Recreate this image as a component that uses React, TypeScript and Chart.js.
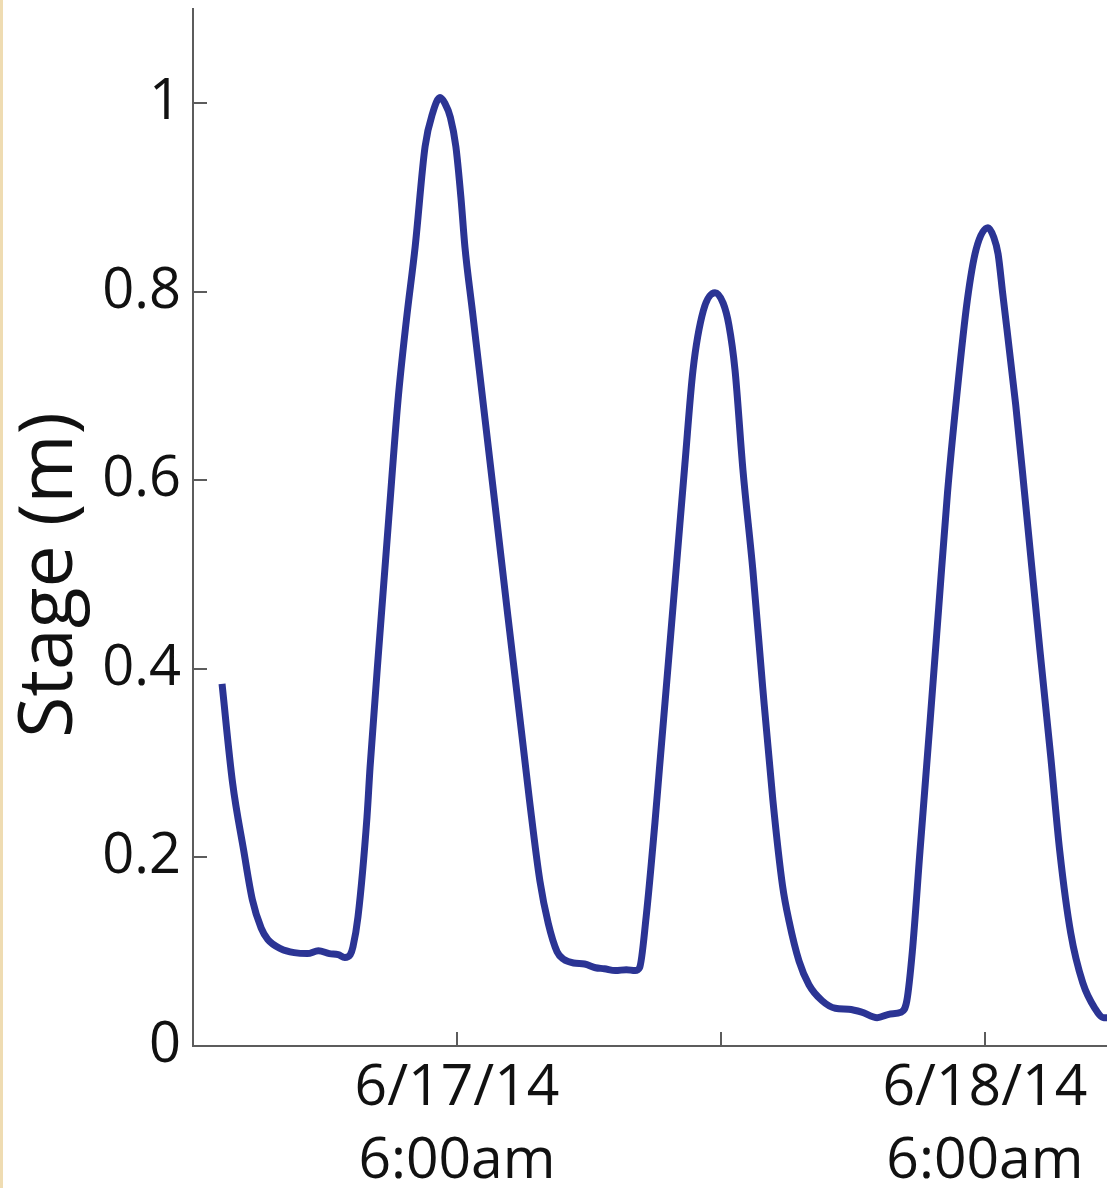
import React, { useEffect, useRef } from "react";
import { Chart, registerables } from "chart.js";

Chart.register(...registerables);

// hours relative to 6/17/14 6:00am
const hours = [
  -10.68, -10.2, -9.7, -9.3, -8.9, -8.6, -8.0, -7.4, -6.8, -6.3, -5.8, -5.4, -5.1, -4.85,
  -4.73, -4.5, -4.09, -3.95, -3.5, -3.1, -2.68, -2.3, -1.9, -1.45, -1.1, -0.77, -0.55,
  -0.3, -0.05, 0.18, 0.36, 0.7, 1.05, 1.75, 2.32, 3.0, 3.3, 3.77, 4.15, 4.55, 4.85, 5.3,
  5.8, 6.3, 6.7, 7.2, 7.7, 8.1, 8.3, 8.6, 9.0, 9.2, 9.6, 10.0, 10.36, 10.73, 11.2, 11.73,
  12.1, 12.36, 12.64, 13.0, 13.45, 13.9, 14.36, 14.8, 15.1, 15.55, 16.0, 16.6, 17.2, 17.8, 18.4,
  19.1, 19.7, 20.2, 20.45, 20.7, 21.05, 21.5, 21.9, 22.3, 22.7, 23.2, 23.6, 24.14, 24.4,
  24.6, 24.8, 25.4, 25.8, 26.5, 27.0, 27.4, 27.9, 28.45, 29.0, 29.4, 29.7,
];
const stage = [
  0.384, 0.279, 0.208, 0.155, 0.125, 0.113, 0.103, 0.099, 0.098, 0.101, 0.098, 0.097, 0.094, 0.097,
  0.105, 0.137, 0.243, 0.296, 0.438, 0.56, 0.685, 0.77, 0.848, 0.954, 0.99, 1.006, 1.0,
  0.985, 0.954, 0.9, 0.848, 0.78, 0.71, 0.57, 0.455, 0.32, 0.26, 0.175, 0.13, 0.1, 0.092, 0.088,
  0.087, 0.083, 0.082, 0.080, 0.081, 0.080, 0.083, 0.137, 0.237, 0.293, 0.404, 0.516, 0.617, 0.717, 0.78, 0.799,
  0.788, 0.765, 0.717, 0.611, 0.505, 0.38, 0.261, 0.17, 0.132, 0.09, 0.065, 0.048, 0.040, 0.039, 0.036,
  0.030, 0.034, 0.036, 0.048, 0.10, 0.207, 0.342, 0.465, 0.587, 0.685, 0.791, 0.845, 0.868, 0.858,
  0.84, 0.80, 0.68, 0.587, 0.42, 0.305, 0.207, 0.12, 0.067, 0.040, 0.030, 0.030,
];

const xTickValues = [0, 12, 24];
const xTickLabels: (string | string[])[] = [["6/17/14", "6:00am"], "", ["6/18/14", "6:00am"]];
const yTickValues = [0, 0.2, 0.4, 0.6, 0.8, 1];
const yTickLabels = ["0", "0.2", "0.4", "0.6", "0.8", "1"];
const yTitle = "Stage (m)";

const X_MIN = -12;
const X_MAX = 29.55;
const Y_MIN = 0;
const Y_MAX = 1.1;

const FONT = '"Open Sans", "Noto Sans", sans-serif';
const AXIS_COLOR = "#5c5c5c";
const LINE_COLOR = "#2b3494";

const innerTicksPlugin = {
  id: "innerTicks",
  afterDraw(chart: any) {
    const { ctx, chartArea, scales } = chart;
    const xs = scales.x;
    const ys = scales.y;
    ctx.save();
    ctx.strokeStyle = AXIS_COLOR;
    ctx.lineWidth = 2;
    ctx.beginPath();
    for (const v of yTickValues) {
      const y = Math.round(ys.getPixelForValue(v));
      ctx.moveTo(chartArea.left, y);
      ctx.lineTo(chartArea.left + 14, y);
    }
    for (const v of xTickValues) {
      const x = Math.round(xs.getPixelForValue(v));
      ctx.moveTo(x, chartArea.bottom);
      ctx.lineTo(x, chartArea.bottom - 14);
    }
    ctx.stroke();

    // rotated y axis title
    ctx.fillStyle = "#111";
    ctx.font = `75px ${FONT}`;
    ctx.textAlign = "center";
    ctx.textBaseline = "alphabetic";
    ctx.translate(72, 575);
    ctx.rotate(-Math.PI / 2);
    ctx.fillText(yTitle, 0, 0);
    ctx.restore();
  },
};

export default function App() {
  const ref = useRef<HTMLCanvasElement | null>(null);

  useEffect(() => {
    if (!ref.current) return;
    const chart = new Chart(ref.current, {
      type: "line",
      data: {
        datasets: [
          {
            data: hours.map((h, i) => ({ x: h, y: stage[i] })),
            borderColor: LINE_COLOR,
            borderWidth: 7,
            pointRadius: 0,
            fill: false,
            cubicInterpolationMode: "monotone",
          },
        ],
      },
      options: {
        animation: false,
        responsive: false,
        maintainAspectRatio: false,
        devicePixelRatio: 1,
        layout: { padding: { top: 9, left: 0, right: 0, bottom: 0 } },
        plugins: { legend: { display: false }, tooltip: { enabled: false }, title: { display: false } },
        scales: {
          x: {
            type: "linear",
            min: X_MIN,
            max: X_MAX,
            afterBuildTicks: (s: any) => {
              s.ticks = xTickValues.map((v) => ({ value: v }));
            },
            afterFit: (s: any) => {
              s.height = 142;
              s.paddingLeft = 0;
              s.paddingRight = 0;
            },
            grid: { display: false, drawTicks: false },
            border: { display: true, color: AXIS_COLOR, width: 2 },
            ticks: {
              autoSkip: false,
              maxRotation: 0,
              minRotation: 0,
              padding: 6,
              color: "#111",
              font: { family: FONT, size: 57, lineHeight: 1.28 },
              callback: (_v: any, i: number) => xTickLabels[i],
            },
          },
          y: {
            type: "linear",
            min: Y_MIN,
            max: Y_MAX,
            afterBuildTicks: (s: any) => {
              s.ticks = yTickValues.map((v) => ({ value: v }));
            },
            afterFit: (s: any) => {
              s.width = 193;
              s.paddingTop = 0;
              s.paddingBottom = 0;
            },
            grid: { display: false, drawTicks: false },
            border: { display: true, color: AXIS_COLOR, width: 2 },
            ticks: {
              autoSkip: false,
              padding: 12,
              color: "#111",
              font: { family: FONT, size: 56 },
              callback: (_v: any, i: number) => yTickLabels[i],
            },
          },
        },
      },
      plugins: [innerTicksPlugin],
    } as any);
    return () => chart.destroy();
  }, []);

  return (
    <div style={{ position: "absolute", left: 0, top: 0, width: 1107, height: 1188, background: "#fff", overflow: "hidden" }}>
      <div style={{ position: "absolute", left: 0, top: 0, width: 3, height: 1188, background: "#efdcb2" }} />
      <canvas ref={ref} width={1107} height={1188} style={{ display: "block", width: 1107, height: 1188 }} />
    </div>
  );
}
